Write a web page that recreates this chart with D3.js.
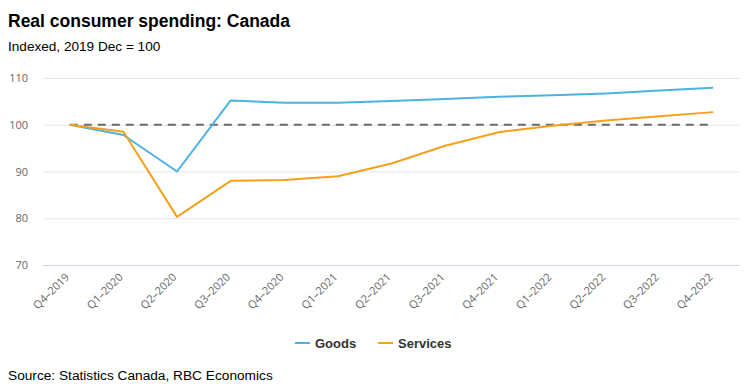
<!DOCTYPE html>
<html>
<head>
<meta charset="utf-8">
<script src="https://cdn.jsdelivr.net/npm/d3@7"></script>
<style>
  body { margin: 0; background: #fff; }
  svg { font-family: "Liberation Sans", Arial, sans-serif; }
</style>
</head>
<body>
<div class="svg"></div>
<script>
var quarters = ['Q4–2019', 'Q1–2020', 'Q2–2020', 'Q3–2020', 'Q4–2020', 'Q1–2021', 'Q2–2021',
  'Q3–2021', 'Q4–2021', 'Q1–2022', 'Q2–2022', 'Q3–2022', 'Q4–2022'];
var goods = [100, 97.8, 90, 105.2, 104.7, 104.7, 105.1, 105.5, 106, 106.3, 106.7, 107.3, 107.9];
var services = [100, 98.5, 80.3, 88, 88.2, 89, 91.7, 95.5, 98.4, 99.8, 100.9, 101.8, 102.7];
var yTicks = [70, 80, 90, 100, 110];

var w = 750, h = 390;
var plotLeft = 43, plotRight = 740, plotTop = 78, plotBottom = 265;

var svg = d3.select('div.svg').append('svg')
  .attr('width', w)
  .attr('height', h);

var x = d3.scalePoint().domain(quarters).range([plotLeft, plotRight]).padding(0.5);
var y = d3.scaleLinear().domain([70, 110]).range([plotBottom, plotTop]);

// titles
svg.append('text').attr('x', 8).attr('y', 27)
  .style('font-size', '17.5px').style('font-weight', 'bold').style('fill', '#000')
  .text('Real consumer spending: Canada');
svg.append('text').attr('x', 8).attr('y', 51)
  .style('font-size', '13.6px').style('fill', '#000')
  .text('Indexed, 2019 Dec = 100');

// grid
svg.append('g').selectAll('line')
  .data(yTicks)
  .enter().append('line')
  .attr('x1', plotLeft).attr('x2', plotRight)
  .attr('y1', function (d) { return y(d) + 0.5; })
  .attr('y2', function (d) { return y(d) + 0.5; })
  .style('stroke', function (d) { return d === 70 ? '#ccd6eb' : '#e6e6e6'; })
  .style('stroke-width', 1);

// y axis labels
var yAxis = svg.append('g')
  .attr('transform', 'translate(' + (plotLeft - 15) + ',0)')
  .call(d3.axisLeft(y).tickValues(yTicks).tickSize(0).tickPadding(0));
yAxis.select('.domain').remove();
yAxis.selectAll('text')
  .style('font-family', '"Open Sans", sans-serif')
  .style('font-size', '11px').style('fill', '#666');

// x axis labels
var xAxis = svg.append('g')
  .attr('transform', 'translate(0,' + (plotBottom + 10) + ')')
  .call(d3.axisBottom(x).tickSize(0).tickPadding(0));
xAxis.select('.domain').remove();
xAxis.selectAll('text')
  .style('font-family', '"Open Sans", sans-serif')
  .style('font-size', '11px').style('fill', '#666')
  .style('text-anchor', 'end')
  .attr('dy', '0.35em')
  .attr('transform', 'translate(-3,0) rotate(-45)');

// 100 reference line
svg.append('line')
  .attr('x1', x(quarters[0])).attr('x2', x(quarters[quarters.length - 1]))
  .attr('y1', y(100)).attr('y2', y(100))
  .style('stroke', '#6b6b6b').style('stroke-width', 2)
  .style('stroke-dasharray', '8,6');

var line = d3.line()
  .x(function (d, i) { return x(quarters[i]); })
  .y(function (d) { return y(d); });

var series = [
  { name: 'Goods', values: goods, color: '#4db2df' },
  { name: 'Services', values: services, color: '#f7a11a' }
];

series.forEach(function (s) {
  svg.append('path')
    .datum(s.values)
    .attr('d', line)
    .style('fill', 'none')
    .style('stroke', s.color)
    .style('stroke-width', 2)
    .style('stroke-linejoin', 'round');
});

// legend
var legendX = [295, 378];
var legend = svg.append('g').selectAll('g')
  .data(series)
  .enter().append('g')
  .attr('transform', function (d, i) { return 'translate(' + legendX[i] + ',343)'; });
legend.append('line')
  .attr('x1', 0).attr('x2', 15).attr('y1', 0).attr('y2', 0)
  .style('stroke', function (d) { return d.color; })
  .style('stroke-width', 2);
legend.append('text')
  .attr('x', 20).attr('y', 5)
  .style('font-size', '13px').style('font-weight', 'bold').style('fill', '#333')
  .text(function (d) { return d.name; });

svg.append('text').attr('x', 8).attr('y', 380)
  .style('font-size', '13.7px').style('fill', '#000')
  .text('Source: Statistics Canada, RBC Economics');
</script>
</body>
</html>
